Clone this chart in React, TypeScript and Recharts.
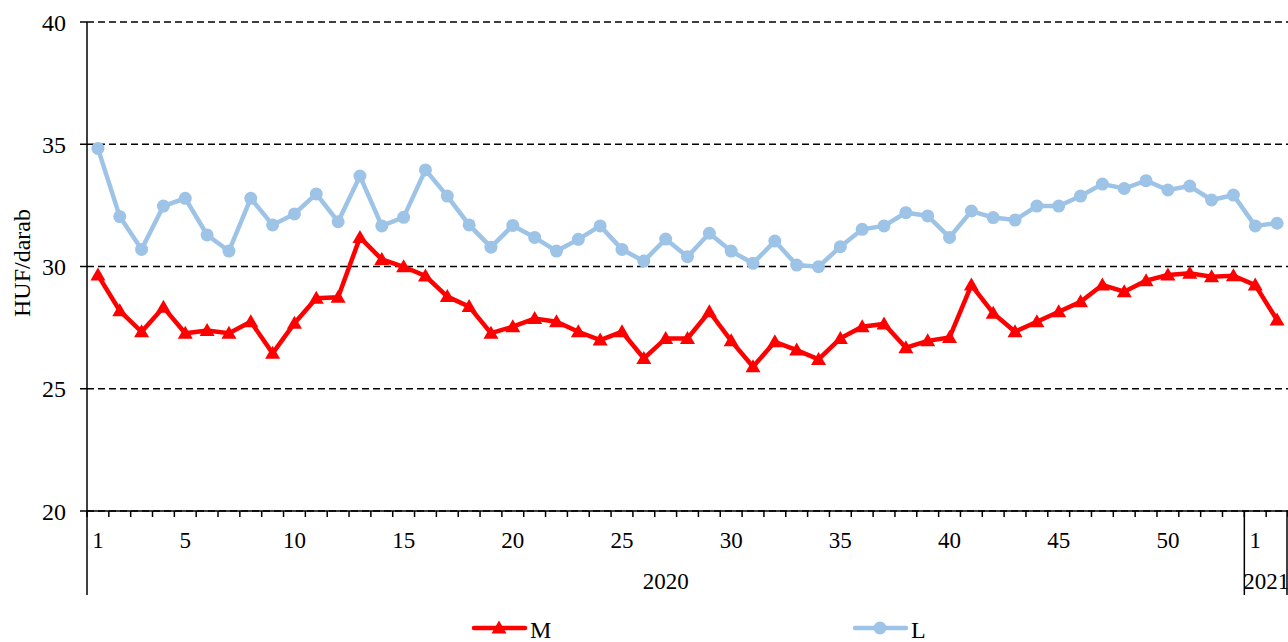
import React from "react";
import { LineChart, Line, XAxis, YAxis, CartesianGrid } from "recharts";

const weeks = [
  "1", "2", "3", "4", "5", "6", "7", "8", "9", "10",
  "11", "12", "13", "14", "15", "16", "17", "18", "19", "20",
  "21", "22", "23", "24", "25", "26", "27", "28", "29", "30",
  "31", "32", "33", "34", "35", "36", "37", "38", "39", "40",
  "41", "42", "43", "44", "45", "46", "47", "48", "49", "50",
  "51", "52", "53", "1", "2",
];

const years = [
  { name: "2020", start: 0, count: 53 },
  { name: "2021", start: 53, count: 2 },
];

// which category indices carry a visible week label
const labeledIdx = [0, 4, 9, 14, 19, 24, 29, 34, 39, 44, 49, 53];

const seriesM = [
  29.65, 28.19, 27.33, 28.33, 27.27, 27.38, 27.27, 27.74, 26.45, 27.68,
  28.7, 28.74, 31.19, 30.29, 29.99, 29.61, 28.77, 28.36, 27.27, 27.54,
  27.87, 27.74, 27.33, 26.99, 27.33, 26.24, 27.06, 27.06, 28.15, 26.96,
  25.9, 26.92, 26.58, 26.2, 27.06, 27.54, 27.65, 26.68, 26.96, 27.1,
  29.24, 28.09, 27.33, 27.74, 28.15, 28.56, 29.24, 28.97, 29.42, 29.65,
  29.72, 29.58, 29.62, 29.24, 27.81,
];

const seriesL = [
  34.83, 32.04, 30.7, 32.47, 32.79, 31.29, 30.63, 32.79, 31.7, 32.15,
  32.97, 31.83, 33.7, 31.66, 32.01, 33.95, 32.88, 31.7, 30.79, 31.68,
  31.19, 30.63, 31.11, 31.66, 30.7, 30.22, 31.12, 30.4, 31.36, 30.63,
  30.13, 31.04, 30.06, 29.99, 30.81, 31.52, 31.66, 32.2, 32.07, 31.19,
  32.27, 32.0, 31.9, 32.47, 32.47, 32.88, 33.37, 33.19, 33.51, 33.13,
  33.29, 32.72, 32.92, 31.66, 31.77,
];

const yTicks = [20, 25, 30, 35, 40];

const data = weeks.map((w, i) => ({ idx: i, week: w, M: seriesM[i], L: seriesL[i] }));

const W = 1288;
const H = 642;
const TOP = 22;
const LEFT = 87;
const XAXIS_H = 131;
const AXIS_Y = H - XAXIS_H;
const STEP = (W - LEFT) / weeks.length;
const FONT = '"Liberation Serif", "Times New Roman", serif';
const FS = 23;
const RED = "#FF0000";
const BLUE = "#9DC3E6";

const XTick = (props: any) => {
  const { x, index } = props;
  const half = STEP / 2;
  const els: React.ReactNode[] = [];
  els.push(<line key="t" x1={x - half} x2={x - half} y1={AXIS_Y} y2={AXIS_Y + 6} stroke="#000" strokeWidth={1.5} />);
  if (index === weeks.length - 1) {
    els.push(<line key="t2" x1={x + half} x2={x + half} y1={AXIS_Y} y2={AXIS_Y + 6} stroke="#000" strokeWidth={1.5} />);
    els.push(<line key="s2" x1={x + half - 1} x2={x + half - 1} y1={AXIS_Y} y2={AXIS_Y + 84} stroke="#000" strokeWidth={1.5} />);
  }
  years.forEach((yr) => {
    if (index === yr.start) {
      els.push(<line key={"s" + yr.name} x1={x - half} x2={x - half} y1={AXIS_Y} y2={AXIS_Y + 84} stroke="#000" strokeWidth={1.5} />);
      els.push(
        <text key={"y" + yr.name} x={x + ((yr.count - 1) / 2) * STEP} y={AXIS_Y + 78} textAnchor="middle" fontSize={FS} fontFamily={FONT} fill="#000">
          {yr.name}
        </text>
      );
    }
  });
  if (labeledIdx.includes(index)) {
    els.push(
      <text key="l" x={x} y={AXIS_Y + 37} textAnchor="middle" fontSize={FS} fontFamily={FONT} fill="#000">
        {weeks[index]}
      </text>
    );
  }
  return <g>{els}</g>;
};

const Triangle = (props: any) => {
  const { cx, cy } = props;
  if (cx == null || cy == null) return null;
  return <polygon points={`${cx},${cy - 7.5} ${cx - 7.5},${cy + 5.5} ${cx + 7.5},${cy + 5.5}`} fill={RED} stroke="none" />;
};

const Circle = (props: any) => {
  const { cx, cy } = props;
  if (cx == null || cy == null) return null;
  return <circle cx={cx} cy={cy} r={6.5} fill={BLUE} stroke="none" />;
};

export default function App() {
  return (
    <div style={{ position: "absolute", left: 0, top: 0, width: W, height: H, background: "#fff" }}>
      <LineChart width={W} height={H} data={data} margin={{ top: TOP, right: 0, left: 0, bottom: 0 }}>
        <CartesianGrid vertical={false} stroke="#000" strokeWidth={1.5} strokeDasharray="7 4" />
        <XAxis
          dataKey="idx"
          type="category"
          height={XAXIS_H}
          interval={0}
          padding={{ left: STEP / 2, right: STEP / 2 }}
          axisLine={{ stroke: "#000", strokeWidth: 1.5 }}
          tickLine={false}
          tick={<XTick />}
        />
        <YAxis
          width={LEFT}
          domain={[20, 40]}
          ticks={yTicks}
          interval={0}
          axisLine={{ stroke: "#000", strokeWidth: 1.5 }}
          tickLine={{ stroke: "#000", strokeWidth: 1.5 }}
          tickSize={7}
          tickMargin={14}
          tick={{ fontSize: FS + 1, fontFamily: FONT, fill: "#000" }}
          label={{
            content: () => (
              <text x={22} y={263} transform="rotate(-90, 22, 263)" textAnchor="middle" dominantBaseline="central" fontSize={24} fontFamily={FONT} fill="#000">
                HUF/darab
              </text>
            ),
          }}
        />
        <Line dataKey="M" stroke={RED} strokeWidth={4.5} dot={<Triangle />} activeDot={false} isAnimationActive={false} />
        <Line dataKey="L" stroke={BLUE} strokeWidth={4.5} dot={<Circle />} activeDot={false} isAnimationActive={false} />
      </LineChart>
      <svg width={W} height={42} style={{ position: "absolute", left: 0, top: 600, pointerEvents: "none" }}>
        <line x1={474} x2={525} y1={28} y2={28} stroke={RED} strokeWidth={4.5} strokeLinecap="round" />
        <polygon points={`499,20.5 491.5,33.5 506.5,33.5`} fill={RED} />
        <text x={530} y={38} fontSize={24} fontFamily={FONT} fill="#000">M</text>
        <line x1={855} x2={906} y1={28} y2={28} stroke={BLUE} strokeWidth={4.5} strokeLinecap="round" />
        <circle cx={880} cy={28} r={6.5} fill={BLUE} />
        <text x={911} y={38} fontSize={24} fontFamily={FONT} fill="#000">L</text>
      </svg>
    </div>
  );
}
